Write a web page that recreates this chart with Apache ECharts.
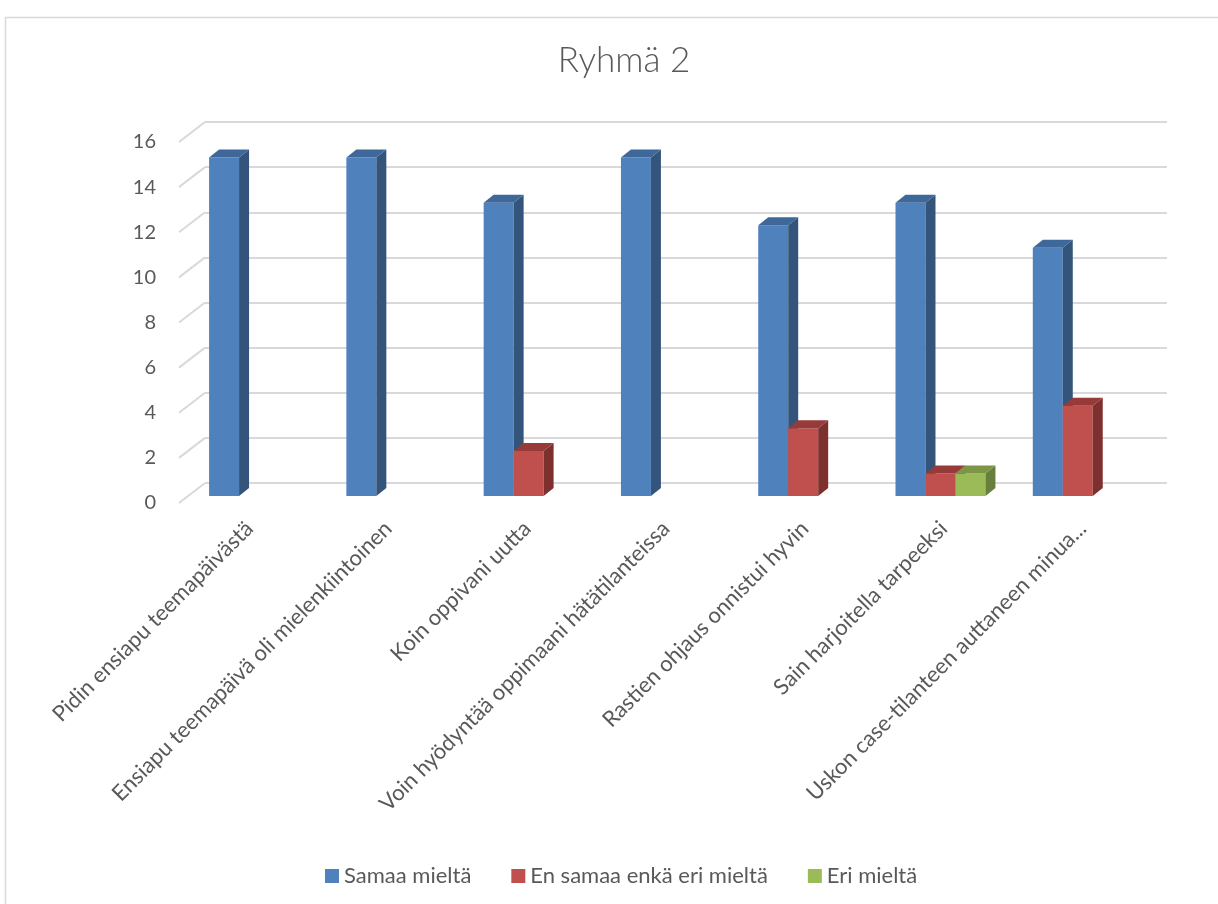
<!DOCTYPE html>
<html>
<head>
<meta charset="utf-8">
<script src="https://cdn.jsdelivr.net/npm/echarts@6/dist/echarts.min.js"></script>
<style>
  html, body { margin: 0; padding: 0; background: #ffffff; }
  #chart { width: 1218px; height: 904px; }
</style>
</head>
<body>
<div id="chart"></div>
<script>
// Survey answers, group 2
const categories = [
  'Pidin ensiapu teemapäivästä',
  'Ensiapu teemapäivä oli mielenkiintoinen',
  'Koin oppivani uutta',
  'Voin hyödyntää oppimaani hätätilanteissa',
  'Rastien ohjaus onnistui hyvin',
  'Sain harjoitella tarpeeksi',
  'Uskon case-tilanteen auttaneen minua...'
];
const seriesNames = ['Samaa mieltä', 'En samaa enkä eri mieltä', 'Eri mieltä'];
const samaaMielta = [15, 15, 13, 15, 12, 13, 11];
const enSamaaEnkaEri = [0, 0, 2, 0, 3, 1, 4];
const eriMielta = [0, 0, 0, 0, 0, 1, 0];
const yTicks = [0, 2, 4, 6, 8, 10, 12, 14, 16];

// front / top / side shading of each column
const palette = [
  { front: '#4F81BD', top: '#3D6899', side: '#34547C' },
  { front: '#C0504D', top: '#963B39', side: '#7E302E' },
  { front: '#9BBB59', top: '#7C9646', side: '#687F3B' }
];

const FONT = 'Lato, "Open Sans", sans-serif';
const TEXT = '#595959';
const BAR_DX = 10, BAR_DY = 8;      // column depth
const WALL_DX = 26, WALL_DY = 20;   // floor depth to the back wall
const GROUP_RATIO = 0.655;          // share of a category taken by the three columns

const chart = echarts.init(document.getElementById('chart'), null, { renderer: 'canvas' });

function column3D(sIdx, values) {
  const c = palette[sIdx];
  return {
    type: 'custom',
    name: seriesNames[sIdx],
    xAxisIndex: 1,
    yAxisIndex: 1,
    z: 3,
    itemStyle: { color: c.front },
    data: values.map((v, i) => [i, v]),
    renderItem(params, api) {
      const v = api.value(1);
      if (!v) return null;
      const i = api.value(0);
      const band = api.size([1, 0])[0];
      const groupW = band * GROUP_RATIO;
      const bw = groupW / 3;
      const p = api.coord([i, v]);
      const base = api.coord([i, 0])[1];
      const x0 = p[0] - groupW / 2 + sIdx * bw;
      const x1 = x0 + bw;
      const top = p[1];
      return {
        type: 'group',
        children: [
          { type: 'rect', shape: { x: x0, y: top, width: bw, height: base - top }, style: { fill: c.front } },
          { type: 'polygon', shape: { points: [[x1, top], [x1 + BAR_DX, top - BAR_DY], [x1 + BAR_DX, base - BAR_DY], [x1, base]] }, style: { fill: c.side } },
          { type: 'polygon', shape: { points: [[x0, top], [x0 + BAR_DX, top - BAR_DY], [x1 + BAR_DX, top - BAR_DY], [x1, top]] }, style: { fill: c.top } }
        ]
      };
    }
  };
}

// slanted side-wall lines joining the value labels to the back-wall gridlines
const wallLines = {
  type: 'custom',
  xAxisIndex: 2,
  yAxisIndex: 2,
  z: 1,
  silent: true,
  data: yTicks.map(v => [0, v]),
  renderItem(params, api) {
    const y = api.coord([0, api.value(1)])[1];
    const gx = params.coordSys.x;
    return {
      type: 'line',
      shape: { x1: gx - WALL_DX, y1: y + WALL_DY, x2: gx, y2: y },
      style: { stroke: '#D9D9D9', lineWidth: 2 }
    };
  }
};

const option = {
  backgroundColor: '#ffffff',
  animation: false,
  title: {
    text: 'Ryhmä 2',
    left: 619,
    top: 38,
    textAlign: 'center',
    textStyle: { fontFamily: FONT, fontWeight: 300, fontSize: 35, color: TEXT }
  },
  legend: {
    left: 320,
    top: 860,
    icon: 'rect',
    itemWidth: 14,
    itemHeight: 14,
    itemGap: 40,
    data: seriesNames,
    textStyle: { fontFamily: FONT, fontSize: 22, color: TEXT }
  },
  graphic: [{
    type: 'rect',
    left: 3, top: 15,
    shape: { width: 1240, height: 900 },
    style: { fill: 'none', stroke: '#D9D9D9', lineWidth: 1.5 },
    silent: true
  }],
  grid: [
    { left: 180, top: 142, width: 972, height: 361 },   // front edge: labels
    { left: 185.4, top: 135, width: 961, height: 361 }, // column plane
    { left: 205, top: 122, width: 962, height: 361 }    // back wall: gridlines
  ],
  xAxis: [
    {
      gridIndex: 0, type: 'category', data: categories,
      axisLine: { show: false }, axisTick: { show: false },
      axisLabel: { interval: 0, rotate: 45, margin: 22, fontFamily: FONT, fontSize: 22, color: TEXT }
    },
    { gridIndex: 1, type: 'category', data: categories, show: false },
    { gridIndex: 2, type: 'category', data: categories, show: false }
  ],
  yAxis: [
    {
      gridIndex: 0, type: 'value', min: 0, max: 16, interval: 2,
      axisLine: { show: false }, axisTick: { show: false }, splitLine: { show: false },
      axisLabel: { margin: 24, fontFamily: FONT, fontSize: 20, color: TEXT }
    },
    { gridIndex: 1, type: 'value', min: 0, max: 16, interval: 2, show: false },
    {
      gridIndex: 2, type: 'value', min: 0, max: 16, interval: 2,
      axisLine: { show: false }, axisTick: { show: false }, axisLabel: { show: false },
      splitLine: { show: true, lineStyle: { color: '#D9D9D9', width: 2 } }
    }
  ],
  series: [
    wallLines,
    column3D(0, samaaMielta),
    column3D(1, enSamaaEnkaEri),
    column3D(2, eriMielta)
  ]
};

chart.setOption(option);
</script>
</body>
</html>
